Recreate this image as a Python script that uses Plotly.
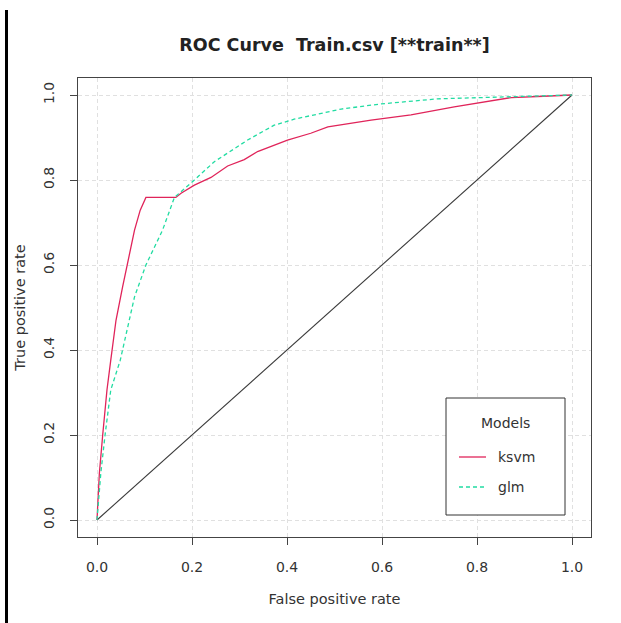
import plotly.graph_objects as go

# ---- data ----
ksvm_fpr = [0, 0.005, 0.012, 0.021, 0.029, 0.035, 0.040, 0.054, 0.063, 0.079, 0.091, 0.103,
            0.166, 0.177, 0.205, 0.240, 0.275, 0.310, 0.338, 0.401, 0.450, 0.486, 0.577,
            0.661, 0.752, 0.872, 0.940, 1.0]
ksvm_tpr = [0, 0.110, 0.200, 0.306, 0.376, 0.424, 0.470, 0.549, 0.600, 0.682, 0.729, 0.759,
            0.759, 0.769, 0.788, 0.806, 0.833, 0.848, 0.867, 0.894, 0.910, 0.925, 0.941,
            0.953, 0.972, 0.994, 0.997, 1.0]

glm_fpr = [0, 0.008, 0.017, 0.029, 0.049, 0.059, 0.079, 0.103, 0.138, 0.163, 0.191, 0.205,
           0.247, 0.317, 0.373, 0.415, 0.514, 0.598, 0.717, 0.872, 1.0]
glm_tpr = [0, 0.110, 0.200, 0.306, 0.376, 0.424, 0.525, 0.600, 0.682, 0.759, 0.785, 0.800,
           0.843, 0.894, 0.929, 0.943, 0.967, 0.979, 0.991, 0.996, 1.0]

diag = [0, 1]
ticks = [0, 0.2, 0.4, 0.6, 0.8, 1.0]
tick_text = ["0.0", "0.2", "0.4", "0.6", "0.8", "1.0"]

title = "ROC Curve  Train.csv [**train**]"
x_title = "False positive rate"
y_title = "True positive rate"
legend_title = "Models"
series_names = ["ksvm", "glm"]
series_colors = ["#e0245a", "#22dca2"]
series_dash = ["solid", "4px,3px"]

W, H = 621, 623
ML, MR, MT, MB = 78, 30, 78, 86
FONT = "DejaVu Sans"
pw = W - ML - MR
ph = H - MT - MB


def px_x(p):
    return (p - ML) / pw


def px_y(p):
    return (H - MB - p) / ph


fig = go.Figure()
fig.add_trace(go.Scatter(x=diag, y=diag, mode="lines", line=dict(color="#3a3a3a", width=1.1),
                         showlegend=False, hoverinfo="skip"))
fig.add_trace(go.Scatter(x=ksvm_fpr, y=ksvm_tpr, mode="lines", name=series_names[0],
                         showlegend=False,
                         line=dict(color=series_colors[0], width=1.3, dash=series_dash[0])))
fig.add_trace(go.Scatter(x=glm_fpr, y=glm_tpr, mode="lines", name=series_names[1],
                         showlegend=False,
                         line=dict(color=series_colors[1], width=1.3, dash=series_dash[1])))

axis_common = dict(
    range=[-0.04, 1.04], tickvals=ticks, ticktext=tick_text,
    showline=True, mirror=True, linecolor="#444444", linewidth=1,
    ticks="outside", ticklen=7, tickcolor="#444444",
    showgrid=True, gridcolor="#e0e0e0", griddash="4px,3px", gridwidth=1,
    zeroline=False, tickfont=dict(family=FONT, size=14, color="#333333"),
)

fig.update_layout(
    width=W, height=H,
    margin=dict(l=ML, r=MR, t=MT, b=MB),
    paper_bgcolor="white", plot_bgcolor="white",
    font=dict(family=FONT, size=14, color="#333333"),
    title=dict(text="<b>" + title + "</b>", x=0.5, xref="paper", y=1 - 45 / H,
               yref="container", yanchor="middle",
               font=dict(family=FONT, size=17.5, color="#222222")),
    xaxis=dict(**axis_common, ticklabelstandoff=10,
               title=dict(text=x_title, standoff=20, font=dict(family=FONT, size=14.5))),
    yaxis=dict(**axis_common, tickangle=-90, ticklabelstandoff=10,
               title=dict(text=y_title, standoff=12, font=dict(family=FONT, size=14.5))),
    showlegend=False,
)

# legend box drawn as in the reference
fig.add_shape(type="rect", xref="paper", yref="paper",
              x0=px_x(446), x1=px_x(565), y0=px_y(515), y1=px_y(398),
              line=dict(color="#333333", width=1), fillcolor="white", layer="above")
fig.add_annotation(xref="paper", yref="paper", x=px_x(505), y=px_y(423),
                   text=legend_title, showarrow=False, xanchor="center", yanchor="middle",
                   font=dict(family=FONT, size=14, color="#333333"))
for i, (name, col, dsh) in enumerate(zip(series_names, series_colors, series_dash)):
    yy = 457 + 30 * i
    fig.add_shape(type="line", xref="paper", yref="paper",
                  x0=px_x(459), x1=px_x(486), y0=px_y(yy), y1=px_y(yy),
                  line=dict(color=col, width=1.3, dash=dsh), layer="above")
    fig.add_annotation(xref="paper", yref="paper", x=px_x(496), y=px_y(yy),
                       text=name, showarrow=False, xanchor="left", yanchor="middle",
                       font=dict(family=FONT, size=14, color="#333333"))

# black vertical rule at left edge of the page
fig.add_shape(type="line", xref="paper", yref="paper",
              x0=px_x(6.5), x1=px_x(6.5), y0=px_y(623), y1=px_y(10),
              line=dict(color="black", width=3))

fig.write_html("out.html")
